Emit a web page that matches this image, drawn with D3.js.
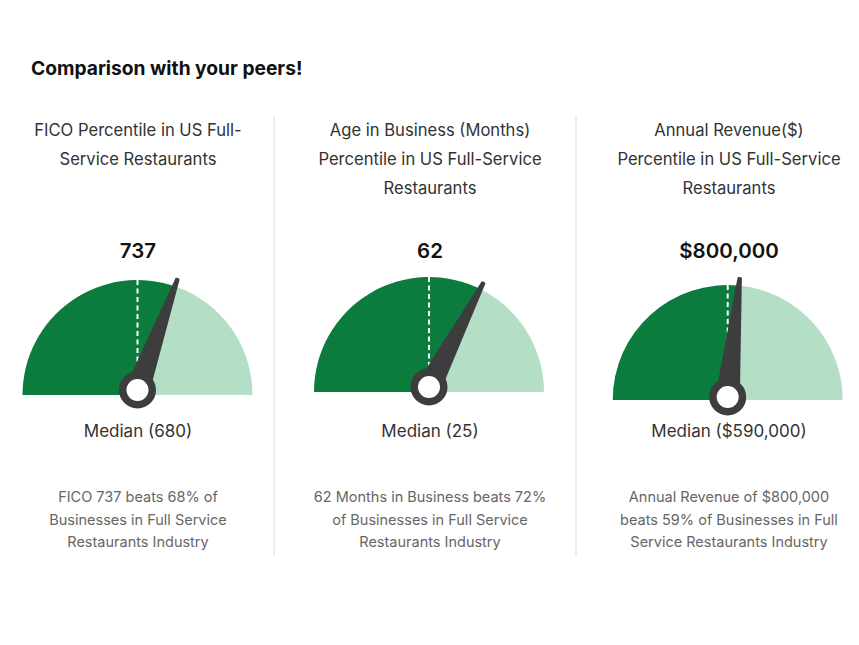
<!DOCTYPE html>
<html>
<head>
<meta charset="utf-8">
<script src="https://cdn.jsdelivr.net/npm/d3@7"></script>
<style>
  html, body { margin: 0; background: #fff; }
  text { font-family: Inter, "Noto Sans", sans-serif; }
</style>
</head>
<body>
<div id="chart"></div>
<script>
// Chart text and values
const chartTitle = "Comparison with your peers!";
const headings = [
  ["FICO Percentile in US Full-", "Service Restaurants"],
  ["Age in Business (Months)", "Percentile in US Full-Service", "Restaurants"],
  ["Annual Revenue($)", "Percentile in US Full-Service", "Restaurants"]
];
const valueLabels = ["737", "62", "$800,000"];
const medianLabels = ["Median (680)", "Median (25)", "Median ($590,000)"];
const captions = [
  ["FICO 737 beats 68% of", "Businesses in Full Service", "Restaurants Industry"],
  ["62 Months in Business beats 72%", "of Businesses in Full Service", "Restaurants Industry"],
  ["Annual Revenue of $800,000", "beats 59% of Businesses in Full", "Service Restaurants Industry"]
];
// Where the needle sits on the dial, 0 = far left, 100 = far right
const needlePositions = [61, 65.3, 53.2];
const medianPositions = [50, 50, 50];

// Layout of each panel
const centerX = [137.5, 429, 727.7];
const baseY = [395, 392, 400];
const hubY = [390, 387, 397];
const needleLength = [119, 118.5, 120.5];
const headingX = [138, 430, 729];
const dividerX = [274, 576];

const radius = 115;
const width = 859, height = 645;

const svg = d3.select("#chart").append("svg")
  .attr("width", width)
  .attr("height", height);

// 0-100 along the dial mapped to arc angle
const angle = d3.scaleLinear().domain([0, 100]).range([-Math.PI / 2, Math.PI / 2]);
const arc = d3.arc().innerRadius(0).outerRadius(radius);

svg.append("text")
  .attr("x", 31)
  .attr("y", 75)
  .attr("font-size", 19.2)
  .attr("font-weight", 700)
  .attr("fill", "#111")
  .text(chartTitle);

svg.selectAll("line.divider")
  .data(dividerX)
  .join("line")
  .attr("class", "divider")
  .attr("x1", d => d).attr("x2", d => d)
  .attr("y1", 116).attr("y2", 556)
  .attr("stroke", "#dedede")
  .attr("stroke-width", 1);

needlePositions.forEach((pos, i) => {
  const cx = centerX[i];

  // Heading lines
  svg.append("g").selectAll("text")
    .data(headings[i])
    .join("text")
    .attr("x", headingX[i])
    .attr("y", (d, k) => 136 + k * 29)
    .attr("text-anchor", "middle")
    .attr("font-size", 16.6)
    .attr("fill", "#333")
    .text(d => d);

  // Big value
  svg.append("text")
    .attr("x", headingX[i])
    .attr("y", 258)
    .attr("text-anchor", "middle")
    .attr("font-size", 20.5)
    .attr("font-weight", 600)
    .attr("fill", "#111")
    .text(valueLabels[i]);

  const g = svg.append("g").attr("transform", `translate(${cx},${baseY[i]})`);

  // Dial: filled part up to the needle, light part after
  g.append("path")
    .attr("d", arc({ startAngle: angle(0), endAngle: angle(pos) }))
    .attr("fill", "#0b7b3e");
  g.append("path")
    .attr("d", arc({ startAngle: angle(pos), endAngle: angle(100) }))
    .attr("fill", "#b4dec6");

  // Median marker
  const a = angle(medianPositions[i]);
  g.append("line")
    .attr("x1", radius * Math.sin(a)).attr("y1", -radius * Math.cos(a))
    .attr("x2", 0).attr("y2", baseY[i] - hubY[i] - 20)
    .attr("stroke", "#fff")
    .attr("stroke-width", 2)
    .attr("stroke-dasharray", "5 3.5");

  // Needle, drawn pointing up and rotated to its value
  const hub = svg.append("g").attr("transform", `translate(${cx},${hubY[i]})`);
  hub.append("path")
    .attr("d", d3.line()([[-10.5, -8], [-1.2, -needleLength[i] + 1], [1.2, -needleLength[i] + 1], [10.5, -8]]))
    .attr("transform", `rotate(${angle(pos) * 180 / Math.PI})`)
    .attr("fill", "#3d3d3d")
    .attr("stroke", "#3d3d3d")
    .attr("stroke-width", 2)
    .attr("stroke-linejoin", "round");
  hub.append("circle")
    .attr("r", 14.75)
    .attr("fill", "#fff")
    .attr("stroke", "#3d3d3d")
    .attr("stroke-width", 7.5);

  // Median label
  svg.append("text")
    .attr("x", headingX[i])
    .attr("y", 437)
    .attr("text-anchor", "middle")
    .attr("font-size", 17)
    .attr("fill", "#333")
    .text(medianLabels[i]);

  // Caption lines
  svg.append("g").selectAll("text")
    .data(captions[i])
    .join("text")
    .attr("x", headingX[i])
    .attr("y", (d, k) => 502 + k * 22.7)
    .attr("text-anchor", "middle")
    .attr("font-size", 14.5)
    .attr("fill", "#666")
    .text(d => d);
});
</script>
</body>
</html>
